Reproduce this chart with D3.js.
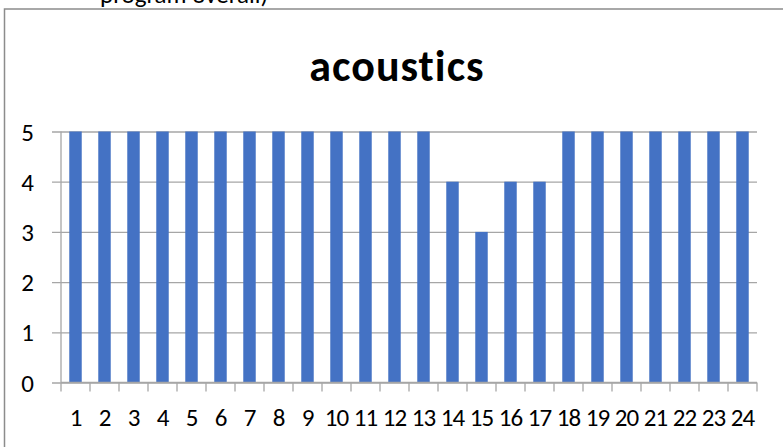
<!DOCTYPE html>
<html>
<head>
<meta charset="utf-8">
<script src="https://cdn.jsdelivr.net/npm/d3@7"></script>
<style>
  html, body { margin: 0; padding: 0; background: #fff; }
  svg { display: block; font-family: Carlito, Calibri, Lato, sans-serif; font-variant-ligatures: none; }
</style>
</head>
<body>
<div id="chart"></div>
<script>
const categories = d3.range(1, 25).map(String);
const scores = [5, 5, 5, 5, 5, 5, 5, 5, 5, 5, 5, 5, 5, 4, 3, 4, 4, 5, 5, 5, 5, 5, 5, 5];
const yTicks = [0, 1, 2, 3, 4, 5];
const chartTitle = "acoustics";
const cutText = "program overall)";

const W = 783, H = 447;
const margin = { top: 131.5, right: 26, bottom: 64.5, left: 61 };
const innerW = W - margin.left - margin.right;
const innerH = H - margin.top - margin.bottom;

const svg = d3.select("#chart").append("svg")
  .attr("width", W).attr("height", H).attr("viewBox", `0 0 ${W} ${H}`);

// leftover line from the text above the chart
svg.append("text")
  .attr("x", 100).attr("y", 3)
  .attr("font-size", 25).attr("fill", "#000")
  .text(cutText);

// chart frame (runs off the right and bottom)
svg.append("rect")
  .attr("x", 4.5).attr("y", 9).attr("width", 800).attr("height", 460)
  .attr("fill", "#fff").attr("stroke", "#8c8c8c").attr("stroke-width", 1.5);

svg.append("text")
  .attr("x", 397).attr("y", 81)
  .attr("text-anchor", "middle")
  .attr("font-size", 44).attr("font-weight", "bold").attr("fill", "#000")
  .attr("letter-spacing", 1)
  .text(chartTitle);

const g = svg.append("g").attr("transform", `translate(${margin.left},${margin.top})`);

const x = d3.scaleBand().domain(categories).range([0, innerW]).padding(0);
const y = d3.scaleLinear().domain([0, 5]).range([innerH, 0]);

// gridlines with outside tick marks
g.append("g")
  .call(d3.axisLeft(y).tickValues(yTicks).tickSize(-innerW - 9).tickFormat(""))
  .attr("transform", "translate(-9,0)")
  .call(a => a.select(".domain").remove())
  .call(a => a.selectAll("line").attr("stroke", "#a6a6a6").attr("stroke-width", 1.3));

// value axis line
g.append("line")
  .attr("x1", 0).attr("x2", 0).attr("y1", y(5)).attr("y2", y(0))
  .attr("stroke", "#a6a6a6").attr("stroke-width", 1.3);

// y labels
g.append("g").selectAll("text").data(yTicks).join("text")
  .attr("x", -27).attr("y", d => y(d))
  .attr("dy", "0.36em")
  .attr("text-anchor", "end")
  .attr("font-size", 25).attr("fill", "#000")
  .text(d => d);

// bars
const barW = x.bandwidth() * 0.43;
g.append("g").selectAll("rect").data(scores).join("rect")
  .attr("x", (d, i) => x(categories[i]) + (x.bandwidth() - barW) / 2)
  .attr("y", d => y(d))
  .attr("width", barW)
  .attr("height", d => y(0) - y(d))
  .attr("fill", "#4472c4");

// category axis line and boundary ticks
g.append("line")
  .attr("x1", 0).attr("x2", innerW).attr("y1", innerH).attr("y2", innerH)
  .attr("stroke", "#a6a6a6").attr("stroke-width", 1.3);
g.append("g").selectAll("line").data(d3.range(categories.length + 1)).join("line")
  .attr("x1", i => i * x.step()).attr("x2", i => i * x.step())
  .attr("y1", innerH).attr("y2", innerH + 9)
  .attr("stroke", "#a6a6a6").attr("stroke-width", 1.3);

// category labels
g.append("g").selectAll("text").data(categories).join("text")
  .attr("x", d => x(d) + x.bandwidth() / 2)
  .attr("y", innerH + 34)
  .attr("dy", "0.36em")
  .attr("text-anchor", "middle")
  .attr("font-size", 25).attr("fill", "#000")
  .attr("letter-spacing", -1)
  .text(d => d);
</script>
</body>
</html>
